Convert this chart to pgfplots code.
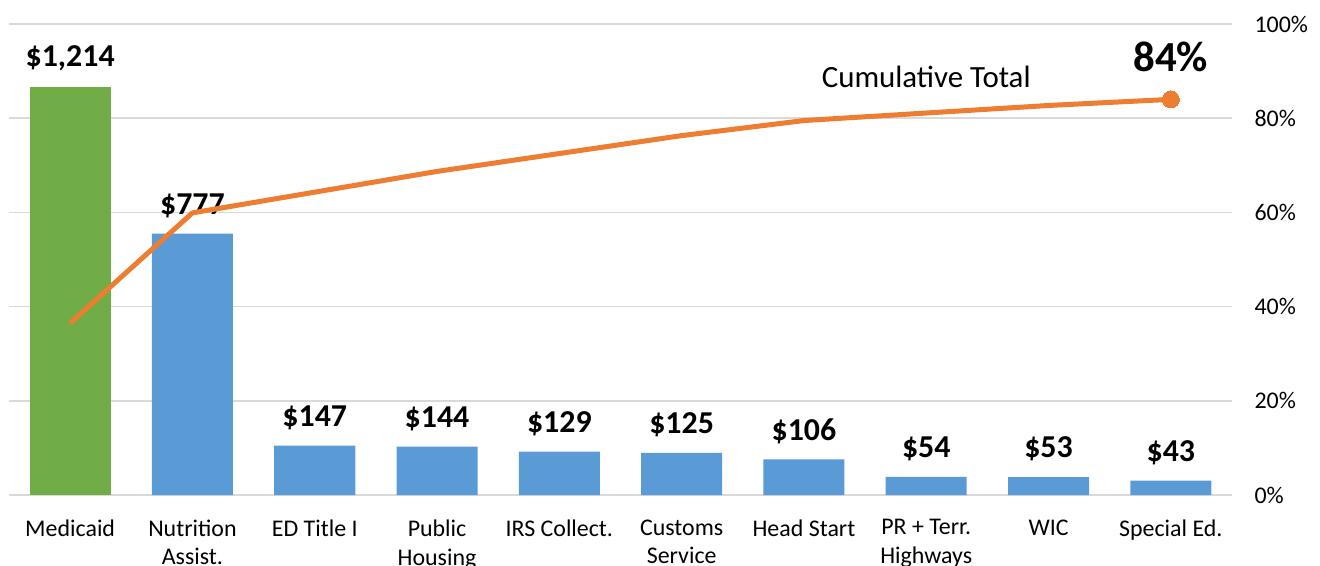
\documentclass[border=0pt]{standalone}
\usepackage{pgfplots}
\pgfplotsset{compat=1.18}
\usepackage{fontspec}
\setmainfont{Carlito}
\definecolor{barblue}{HTML}{5B9BD5}
\definecolor{bargreen}{HTML}{70AD47}
\definecolor{lineorange}{HTML}{ED7D31}
\definecolor{gridgray}{HTML}{D9D9D9}
\begin{document}
\begin{tikzpicture}
\useasboundingbox (-9bp,-71bp) rectangle (1311bp,495bp);
\pgfplotsset{
  base/.style={at={(0,0)}, anchor=south west, scale only axis,
    width=1223bp, height=471bp, xmin=-0.5, xmax=9.5, clip=false,
    major tick length=0pt}
}
% bars on a hidden left axis (0 - 1400)
\begin{axis}[base, ymin=0, ymax=1400,
  axis line style={draw=none},
  ytick={0,280,...,1400}, yticklabels={},
  ymajorgrids, grid style={gridgray, line width=1.6bp},
  xtick={0,...,9},
  xticklabels={Medicaid,{Nutrition\\Assist.},ED Title I,{Public\\Housing},IRS Collect.,{Customs\\Service},Head Start,{PR + Terr.\\Highways},WIC,Special Ed.},
  xticklabel style={font=\fontsize{24}{29}\selectfont, align=center, anchor=north, yshift=-21bp},
  point meta=explicit symbolic,
  nodes near coords,
  every node near coord/.append style={font=\fontsize{32}{32}\selectfont\bfseries, anchor=center, yshift=28bp, text=black},
]
\addplot[ybar, bar width=81bp, bar shift=0pt, fill=bargreen, draw=none]
  coordinates {(0,1214) [\$1,214]};
\addplot[ybar, bar width=81bp, bar shift=0pt, fill=barblue, draw=none]
  coordinates {(1,777) [\$777] (2,147) [\$147] (3,144) [\$144] (4,129) [\$129]
    (5,125) [\$125] (6,106) [\$106] (7,54) [\$54] (8,53) [\$53] (9,43) [\$43]};
\end{axis}
% cumulative line on right axis (0 - 100 %)
\begin{axis}[base, ymin=0, ymax=100,
  axis y line*=right, axis x line=none,
  y axis line style={draw=none},
  ytick={0,20,...,100},
  yticklabels={0\%,20\%,40\%,60\%,80\%,100\%},
  yticklabel style={font=\fontsize{24}{29}\selectfont, anchor=west, xshift=19bp},
]
\addplot[lineorange, line width=5bp, line join=round, mark=*, mark indices={10},
  mark options={fill=lineorange, draw=lineorange, line width=0pt, scale=1.0}, mark size=8.5bp]
  coordinates {(0,36.5) (1,59.9) (2,64.3) (3,68.7) (4,72.5) (5,76.3) (6,79.5) (7,81.1) (8,82.7) (9,84.0)};
\node[font=\fontsize{31}{31}\selectfont] at (axis cs:7.0,88.7) {Cumulative Total};
\node[font=\fontsize{43}{43}\selectfont\bfseries] at (axis cs:9.0,93.0) {84\%};
\end{axis}
\end{tikzpicture}
\end{document}
